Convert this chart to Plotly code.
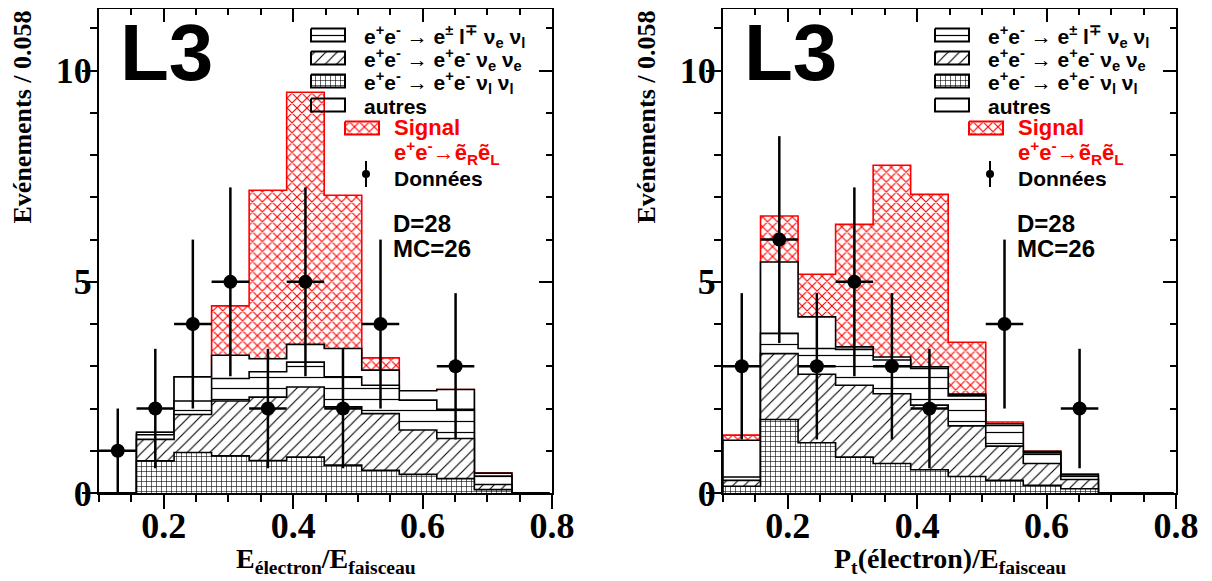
import numpy as np
import plotly.graph_objects as go

# ------------------------------------------------------------------ data
bin_edges = [0.100, 0.158, 0.216, 0.274, 0.332, 0.390, 0.448,
             0.506, 0.564, 0.622, 0.680, 0.738, 0.796]
bin_centers = [0.129, 0.187, 0.245, 0.303, 0.361, 0.419,
               0.477, 0.535, 0.593, 0.651, 0.709, 0.767]
bin_halfwidth = 0.029

# Left panel : E_electron / E_faisceau  (contribution of each process per bin)
left_eenull = [0.00, 0.76, 0.96, 0.88, 0.77, 0.85, 0.66, 0.54, 0.44, 0.34, 0.08, 0.00]
left_eenene = [0.00, 0.51, 0.90, 1.30, 1.50, 1.66, 1.38, 1.34, 1.05, 0.95, 0.12, 0.00]
left_elnn = [0.00, 0.11, 0.32, 0.53, 0.60, 0.59, 0.71, 0.67, 0.71, 0.69, 0.20, 0.00]
left_autres = [0.00, 0.06, 0.57, 0.55, 0.31, 0.42, 0.67, 0.36, 0.22, 0.47, 0.07, 0.00]
left_signal = [0.00, 0.00, 0.00, 1.17, 3.99, 5.97, 3.63, 0.29, 0.00, 0.00, 0.00, 0.00]
left_data = [1, 2, 4, 5, 2, 5, 2, 4, 0, 3, 0, 0]

# Right panel : Pt(electron) / E_faisceau
right_eenull = [0.16, 1.74, 1.19, 0.85, 0.70, 0.55, 0.39, 0.30, 0.18, 0.10, 0.00, 0.00]
right_eenene = [0.14, 1.56, 1.62, 1.70, 1.65, 1.53, 1.20, 0.81, 0.52, 0.22, 0.00, 0.00]
right_elnn = [0.08, 0.48, 0.61, 0.85, 0.80, 0.87, 0.71, 0.49, 0.25, 0.08, 0.00, 0.00]
right_autres = [0.87, 1.69, 0.75, 0.06, 0.07, 0.04, 0.04, 0.04, 0.04, 0.04, 0.00, 0.00]
right_signal = [0.12, 1.09, 1.01, 2.90, 4.54, 4.08, 1.23, 0.04, 0.00, 0.00, 0.00, 0.00]
right_data = [3, 6, 3, 5, 3, 2, 0, 4, 0, 2, 0, 0]

x_ticks = [0.2, 0.4, 0.6, 0.8]
y_ticks = [0, 5, 10]
x_titles = ["E<sub>électron</sub>/E<sub>faisceau</sub>",
            "P<sub>t</sub>(électron)/E<sub>faisceau</sub>"]
y_title = "Evénements / 0.058"
legend_labels = [
    "e<sup>+</sup>e<sup>-</sup> → e<sup>±</sup> l<sup>∓</sup> ν<sub>e</sub> ν<sub>l</sub>",
    "e<sup>+</sup>e<sup>-</sup> → e<sup>+</sup>e<sup>-</sup> ν<sub>e</sub> ν<sub>e</sub>",
    "e<sup>+</sup>e<sup>-</sup> → e<sup>+</sup>e<sup>-</sup> ν<sub>l</sub> ν<sub>l</sub>",
    "autres",
]
signal_label = "Signal"
signal_process = "e<sup>+</sup>e<sup>-</sup>→ẽ<sub>R</sub>ẽ<sub>L</sub>"
data_label = "Données"
counts_text = ["D=28", "MC=26"]

# ------------------------------------------------------------------ style
W, H = 1212, 581
OFF = 8                      # page (body) margin of the html page
FW, FH = W - OFF, H - OFF    # figure size so that it fills the window
SERIF = "Liberation Serif"
SANS = "Liberation Sans"
PLOT_L = [99, 723]          # left edge of each frame (screen px)
PLOT_W = 453
PLOT_TOP, PLOT_BOT = 9, 493
X_RANGE = [0.1, 0.8]
Y_RANGE = [0, 11.46]

styles = {
    "eenull": dict(fillcolor="white", line="black",
                   pattern=dict(shape="+", size=5, solidity=0.22, fgcolor="black", bgcolor="white")),
    "eenene": dict(fillcolor="white", line="black",
                   pattern=dict(shape="/", size=8, solidity=0.14, fgcolor="black", bgcolor="white")),
    "elnn": dict(fillcolor="white", line="black",
                 pattern=dict(shape="-", size=11, solidity=0.11, fgcolor="black", bgcolor="white")),
    "autres": dict(fillcolor="white", line="black", pattern=None),
    "signal": dict(fillcolor="white", line="red",
                   pattern=dict(shape="x", size=7, solidity=0.3, fgcolor="red", bgcolor="white")),
}

fig = go.Figure()


def sx(p):
    return (p - OFF) / FW


def sy(p):
    return 1 - (p - OFF) / FH


def step_xy(vals):
    xs = [bin_edges[0]] + list(bin_edges[:-1]) + [bin_edges[-1]]
    ys = [0.0] + list(vals) + [0.0]
    return xs, ys


def add_panel(i, comps, data):
    xa = "x" if i == 0 else "x2"
    ya = "y" if i == 0 else "y2"
    names = ["eenull", "eenene", "elnn", "autres", "signal"]
    cum = np.cumsum(np.array(comps, dtype=float), axis=0)
    # draw from the top of the stack down (lower histograms cover upper ones)
    for k in range(len(names) - 1, -1, -1):
        st = styles[names[k]]
        xs, ys = step_xy(cum[k])
        kw = {}
        if st["pattern"] is not None:
            kw["fillpattern"] = st["pattern"]
        fig.add_trace(go.Scatter(
            x=xs, y=ys, xaxis=xa, yaxis=ya, mode="lines",
            line=dict(color=st["line"], width=1.6, shape="hv"),
            fill="tozeroy", fillcolor=st["fillcolor"],
            showlegend=False, hoverinfo="skip", **kw))
    # data points
    cx = [c for c, n in zip(bin_centers, data) if n > 0]
    cy = [n for n in data if n > 0]
    fig.add_trace(go.Scatter(
        x=cx, y=cy, xaxis=xa, yaxis=ya, mode="markers",
        marker=dict(color="black", size=14),
        error_y=dict(type="data", array=list(np.sqrt(cy)), thickness=2.5, width=0, color="black"),
        error_x=dict(type="constant", value=bin_halfwidth, thickness=2.5, width=0, color="black"),
        showlegend=False, hoverinfo="skip"))


add_panel(0, [left_eenull, left_eenene, left_elnn, left_autres, left_signal], left_data)
add_panel(1, [right_eenull, right_eenene, right_elnn, right_autres, right_signal], right_data)

# ------------------------------------------------------------------ axes
ydom = [sy(PLOT_BOT), sy(PLOT_TOP)]
tickfont = dict(family=SERIF, size=36, color="black", weight="bold")
layout_axes = {}
for i in range(2):
    xdom = [sx(PLOT_L[i]), sx(PLOT_L[i] + PLOT_W)]
    xs = "" if i == 0 else "2"
    mx, my = str(3 + 2 * i), str(4 + 2 * i)   # mirror axes ids: 3,4 / 5,6
    layout_axes["xaxis" + xs] = dict(
        domain=xdom, anchor="y" + xs, range=X_RANGE, tickvals=x_ticks, tickformat=".1f",
        ticks="outside", ticklen=14, tickwidth=2, tickcolor="black",
        showline=True, linewidth=2, linecolor="black", showgrid=False, zeroline=False,
        tickfont=tickfont, automargin=False, fixedrange=True, ticklabelstandoff=-14,
        minor=dict(dtick=0.05, tick0=0.1, ticks="outside", ticklen=7, tickwidth=2,
                   tickcolor="black", showgrid=False))
    layout_axes["yaxis" + xs] = dict(
        domain=ydom, anchor="x" + xs, range=Y_RANGE, tickvals=y_ticks,
        ticks="outside", ticklen=15, tickwidth=2, tickcolor="black",
        showline=True, linewidth=2, linecolor="black", showgrid=False, zeroline=False,
        tickfont=tickfont, automargin=False, fixedrange=True, ticklabelstandoff=-17,
        minor=dict(dtick=1, tick0=0, ticks="outside", ticklen=7, tickwidth=2,
                   tickcolor="black", showgrid=False))
    # mirrored frame with inward ticks (top & right)
    layout_axes["xaxis" + mx] = dict(
        overlaying="x" + xs, anchor="y" + xs, side="top", range=X_RANGE, tickvals=x_ticks,
        ticks="inside", ticklen=13, tickwidth=2, tickcolor="black", showticklabels=False,
        showline=True, linewidth=2, linecolor="black", showgrid=False, zeroline=False,
        automargin=False, fixedrange=True,
        minor=dict(dtick=0.05, tick0=0.1, ticks="inside", ticklen=6, tickwidth=2,
                   tickcolor="black", showgrid=False))
    layout_axes["yaxis" + my] = dict(
        overlaying="y" + xs, anchor="x" + xs, side="right", range=Y_RANGE, tickvals=y_ticks,
        ticks="inside", ticklen=13, tickwidth=2, tickcolor="black", showticklabels=False,
        showline=True, linewidth=2, linecolor="black", showgrid=False, zeroline=False,
        automargin=False, fixedrange=True,
        minor=dict(dtick=1, tick0=0, ticks="inside", ticklen=6, tickwidth=2,
                   tickcolor="black", showgrid=False))
    fig.add_trace(go.Scatter(x=[], y=[], xaxis="x" + mx, yaxis="y" + xs, showlegend=False))
    fig.add_trace(go.Scatter(x=[], y=[], xaxis="x" + xs, yaxis="y" + my, showlegend=False))

# screen-pixel overlay used for the legend keys and the free text
layout_axes["xaxis7"] = dict(domain=[0, 1], anchor="y7", range=[OFF, W], visible=False,
                             fixedrange=True, automargin=False)
layout_axes["yaxis7"] = dict(domain=[0, 1], anchor="x7", range=[H, OFF], visible=False,
                             fixedrange=True, automargin=False)

# ------------------------------------------------------------------ legends & text
annotations = []
key_styles = ["elnn", "eenene", "eenull", "autres"]
key_rows = [35, 58, 81, 105]
KEY_X0, KEY_W, KEY_H = 311, 34, 13
TEXT_X = 362
LEG_FONT = dict(family=SANS, size=21, color="black", weight="bold")
for i in range(2):
    dx = PLOT_L[i] - PLOT_L[0]
    for lab, stn, yc in zip(legend_labels, key_styles, key_rows):
        st = styles[stn]
        x0, x1 = KEY_X0 + dx, KEY_X0 + KEY_W + dx
        y0, y1 = yc - KEY_H / 2, yc + KEY_H / 2
        kw = {}
        if st["pattern"] is not None:
            kw["fillpattern"] = st["pattern"]
            kw["fill"] = "toself"
            kw["fillcolor"] = "white"
        fig.add_trace(go.Scatter(
            x=[x0, x1, x1, x0, x0], y=[y0, y0, y1, y1, y0], xaxis="x7", yaxis="y7",
            mode="lines", line=dict(color="black", width=2),
            showlegend=False, hoverinfo="skip", **kw))
        annotations.append(dict(x=TEXT_X + dx, y=yc + 1, xref="x7", yref="y7", text=lab,
                                showarrow=False, xanchor="left", yanchor="middle", font=LEG_FONT))
    # signal key
    st = styles["signal"]
    x0, x1 = 345 + dx, 379 + dx
    y0, y1 = 128 - KEY_H / 2, 128 + KEY_H / 2
    fig.add_trace(go.Scatter(
        x=[x0, x1, x1, x0, x0], y=[y0, y0, y1, y1, y0], xaxis="x7", yaxis="y7",
        mode="lines", line=dict(color="red", width=2), fill="toself", fillcolor="white",
        fillpattern=st["pattern"], showlegend=False, hoverinfo="skip"))
    red_font = dict(family=SANS, size=22, color="red", weight="bold")
    annotations.append(dict(x=392 + dx, y=127, xref="x7", yref="y7", text=signal_label,
                            showarrow=False, xanchor="left", yanchor="middle", font=red_font))
    annotations.append(dict(x=392 + dx, y=152, xref="x7", yref="y7", text=signal_process,
                            showarrow=False, xanchor="left", yanchor="middle", font=red_font))
    # data key
    fig.add_trace(go.Scatter(
        x=[366 + dx], y=[174], xaxis="x7", yaxis="y7", mode="markers",
        marker=dict(color="black", size=8),
        error_y=dict(type="constant", value=13, thickness=2, width=0, color="black"),
        showlegend=False, hoverinfo="skip"))
    annotations.append(dict(x=392 + dx, y=178, xref="x7", yref="y7", text=data_label,
                            showarrow=False, xanchor="left", yanchor="middle", font=LEG_FONT))
    # L3 logo
    annotations.append(dict(x=118 + dx, y=52, xref="x7", yref="y7", text="L3",
                            showarrow=False, xanchor="left", yanchor="middle",
                            font=dict(family=SANS, size=80, color="black", weight="bold")))
    # D / MC
    for t, yc in zip(counts_text, [223, 248]):
        annotations.append(dict(x=391 + dx, y=yc, xref="x7", yref="y7", text=t,
                                showarrow=False, xanchor="left", yanchor="middle",
                                font=dict(family=SANS, size=24, color="black", weight="bold")))
    # axis titles
    annotations.append(dict(x=PLOT_L[i] + PLOT_W / 2, y=560, xref="x7", yref="y7",
                            text=x_titles[i], showarrow=False, xanchor="center",
                            yanchor="middle",
                            font=dict(family=SERIF, size=28, color="black", weight="bold")))
    annotations.append(dict(x=22 + dx, y=9, xref="x7", yref="y7", text=y_title,
                            showarrow=False, textangle=-90, xanchor="center", yanchor="top",
                            font=dict(family=SERIF, size=26, color="black", weight="bold")))

fig.update_layout(
    width=FW, height=FH, template="none",
    margin=dict(l=0, r=0, t=0, b=0),
    paper_bgcolor="white", plot_bgcolor="rgba(0,0,0,0)",
    showlegend=False, annotations=annotations,
    **layout_axes)

fig.write_html("out.html")
